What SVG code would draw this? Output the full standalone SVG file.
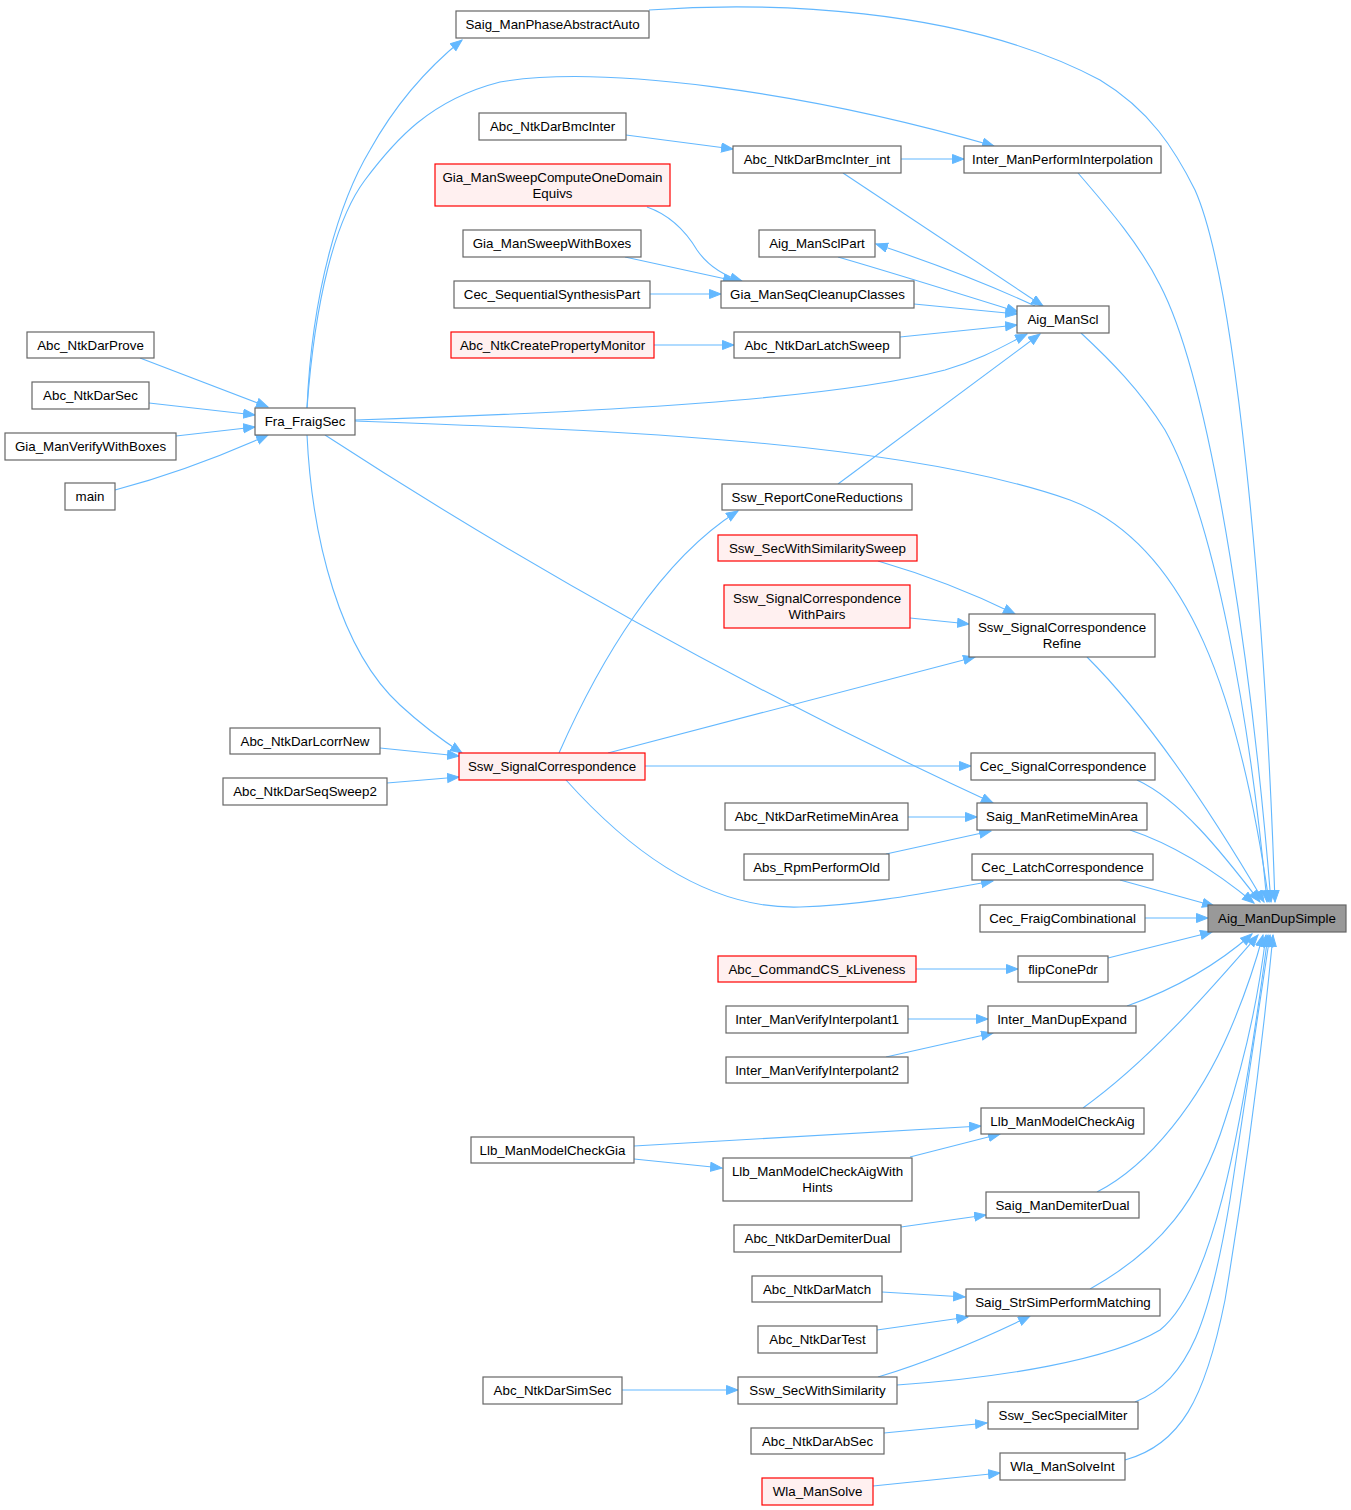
<svg xmlns="http://www.w3.org/2000/svg" width="1351" height="1510" viewBox="0 0 1351 1510">
<style>
.n rect{fill:#ffffff;stroke:#666666;stroke-width:1.2}
.r rect{fill:#fff0f0;stroke:#ff0000;stroke-width:1.2}
.g rect{fill:#999999;stroke:#666666;stroke-width:1.2}
text{font-family:"Liberation Sans",Arial,sans-serif;font-size:13.33px;fill:#000;text-anchor:middle}
#edges path{fill:none;stroke:#63b8ff;stroke-width:1.1;marker-end:url(#ah)}
</style>
<defs>
<marker id="ah" markerWidth="14" markerHeight="12" refX="12" refY="5" orient="auto" markerUnits="userSpaceOnUse">
<path d="M0.5,0.5 L12,5 L0.5,9.5 z" fill="#63b8ff" stroke="#63b8ff" stroke-width="1"/>
</marker>
</defs>
<rect width="1351" height="1510" fill="#ffffff"/>
<g id="edges">
<path d="M649,10 C760,2 960,5 1100,80 C1150,110 1175,150 1195,190 C1235,280 1265,600 1275,902"/>
<path d="M307,408 C312,290 340,200 370,150 C395,105 425,70 462,40"/>
<path d="M307,408 C315,300 335,220 365,180 C395,140 430,100 500,82 C600,65 800,90 994,146"/>
<path d="M626,135 L733,149"/>
<path d="M901,159 L964,159"/>
<path d="M843,173 L1043,306"/>
<path d="M1078,173 C1110,210 1140,245 1160,285 C1215,390 1255,700 1271,902"/>
<path d="M647,207 C670,215 685,230 697,250 C708,266 725,276 742,281"/>
<path d="M625,257 L735,281"/>
<path d="M650,294 L721,294"/>
<path d="M914,304 L1017,314"/>
<path d="M1035,306 C990,285 930,262 876,244"/>
<path d="M838,257 C900,275 970,297 1018,312"/>
<path d="M654,345 L734,345"/>
<path d="M900,337 L1017,325"/>
<path d="M355,420 C600,412 830,400 945,370 C985,358 1005,345 1027,334"/>
<path d="M838,484 L1040,334"/>
<path d="M1081,333 C1110,360 1140,390 1165,430 C1215,520 1250,720 1267,902"/>
<path d="M140,358 L268,407"/>
<path d="M149,403 L255,415"/>
<path d="M176,436 L255,427"/>
<path d="M115,490 Q190,470 268,435"/>
<path d="M355,421 C600,430 900,440 1070,500 C1190,545 1240,700 1269,902"/>
<path d="M307,435 C312,540 340,650 400,705 C425,728 445,742 462,753"/>
<path d="M325,435 Q640,640 993,803"/>
<path d="M559,753 C600,660 660,560 738,511"/>
<path d="M608,753 L975,657"/>
<path d="M645,766 L971,766"/>
<path d="M566,780 C620,840 700,910 800,907 C870,905 940,890 993,881"/>
<path d="M380,748 L459,756"/>
<path d="M387,783 L459,777"/>
<path d="M878,561 Q950,582 1015,614"/>
<path d="M910,618 L969,624"/>
<path d="M1087,657 C1150,720 1210,810 1264,902"/>
<path d="M1137,780 C1180,800 1220,850 1260,902"/>
<path d="M908,817 L977,817"/>
<path d="M886,854 L991,831"/>
<path d="M1130,830 Q1190,850 1254,903"/>
<path d="M1120,880 L1214,906"/>
<path d="M1145,918 L1208,918"/>
<path d="M1108,958 L1212,932"/>
<path d="M916,969 L1018,969"/>
<path d="M1127,1006 Q1200,980 1252,934"/>
<path d="M908,1019 L988,1019"/>
<path d="M886,1057 L993,1033"/>
<path d="M1083,1108 C1150,1060 1210,990 1258,935"/>
<path d="M634,1146 L981,1126"/>
<path d="M634,1159 L722,1168"/>
<path d="M910,1157 L1000,1134"/>
<path d="M1097,1192 C1150,1165 1200,1100 1230,1030 C1245,995 1255,965 1263,935"/>
<path d="M901,1227 L986,1215"/>
<path d="M1090,1289 C1160,1250 1200,1200 1225,1120 C1245,1060 1258,1000 1266,935"/>
<path d="M882,1292 L965,1297"/>
<path d="M877,1330 L968,1317"/>
<path d="M878,1377 Q950,1355 1030,1316"/>
<path d="M897,1385 C1000,1378 1110,1360 1160,1330 C1210,1290 1240,1150 1268,935"/>
<path d="M622,1390 L738,1390"/>
<path d="M1135,1402 C1190,1380 1210,1320 1230,1200 C1245,1100 1260,1000 1270,935"/>
<path d="M884,1433 L987,1423"/>
<path d="M1125,1460 C1180,1445 1205,1400 1225,1300 C1245,1180 1262,1050 1273,935"/>
<path d="M873,1486 L1000,1473"/>
</g>
<g id="n_Saig_ManPhaseAbstractAuto" class="n"><rect x="456" y="11" width="193" height="27"/><text x="552.5" y="29">Saig_ManPhaseAbstractAuto</text></g>
<g id="n_Abc_NtkDarBmcInter" class="n"><rect x="479" y="113" width="147" height="27"/><text x="552.5" y="131">Abc_NtkDarBmcInter</text></g>
<g id="n_Abc_NtkDarBmcInter_int" class="n"><rect x="733" y="146" width="168" height="27"/><text x="817" y="164">Abc_NtkDarBmcInter_int</text></g>
<g id="n_Inter_ManPerformInterpolation" class="n"><rect x="964" y="146" width="197" height="27"/><text x="1062.5" y="164">Inter_ManPerformInterpolation</text></g>
<g id="n_Gia_ManSweepComputeOneDomainEquivs" class="r"><rect x="435" y="164" width="235" height="42"/><text x="552.5" y="182">Gia_ManSweepComputeOneDomain</text><text x="552.5" y="198">Equivs</text></g>
<g id="n_Gia_ManSweepWithBoxes" class="n"><rect x="463" y="230" width="178" height="27"/><text x="552" y="248">Gia_ManSweepWithBoxes</text></g>
<g id="n_Aig_ManSclPart" class="n"><rect x="759" y="230" width="116" height="27"/><text x="817" y="248">Aig_ManSclPart</text></g>
<g id="n_Cec_SequentialSynthesisPart" class="n"><rect x="454" y="281" width="196" height="27"/><text x="552" y="299">Cec_SequentialSynthesisPart</text></g>
<g id="n_Gia_ManSeqCleanupClasses" class="n"><rect x="721" y="281" width="193" height="27"/><text x="817.5" y="299">Gia_ManSeqCleanupClasses</text></g>
<g id="n_Aig_ManScl" class="n"><rect x="1017" y="306" width="92" height="27"/><text x="1063" y="324">Aig_ManScl</text></g>
<g id="n_Abc_NtkCreatePropertyMonitor" class="r"><rect x="451" y="332" width="203" height="26"/><text x="552.5" y="350">Abc_NtkCreatePropertyMonitor</text></g>
<g id="n_Abc_NtkDarLatchSweep" class="n"><rect x="734" y="332" width="166" height="26"/><text x="817" y="350">Abc_NtkDarLatchSweep</text></g>
<g id="n_Abc_NtkDarProve" class="n"><rect x="27" y="332" width="127" height="26"/><text x="90.5" y="350">Abc_NtkDarProve</text></g>
<g id="n_Abc_NtkDarSec" class="n"><rect x="32" y="382" width="117" height="27"/><text x="90.5" y="400">Abc_NtkDarSec</text></g>
<g id="n_Gia_ManVerifyWithBoxes" class="n"><rect x="5" y="433" width="171" height="27"/><text x="90.5" y="451">Gia_ManVerifyWithBoxes</text></g>
<g id="n_main" class="n"><rect x="65" y="483" width="50" height="27"/><text x="90" y="501">main</text></g>
<g id="n_Fra_FraigSec" class="n"><rect x="255" y="408" width="100" height="27"/><text x="305" y="426">Fra_FraigSec</text></g>
<g id="n_Ssw_ReportConeReductions" class="n"><rect x="722" y="484" width="190" height="26"/><text x="817" y="502">Ssw_ReportConeReductions</text></g>
<g id="n_Ssw_SecWithSimilaritySweep" class="r"><rect x="718" y="535" width="199" height="26"/><text x="817.5" y="553">Ssw_SecWithSimilaritySweep</text></g>
<g id="n_Ssw_SignalCorrespondenceWithPairs" class="r"><rect x="724" y="585" width="186" height="43"/><text x="817" y="603">Ssw_SignalCorrespondence</text><text x="817" y="619">WithPairs</text></g>
<g id="n_Ssw_SignalCorrespondenceRefine" class="n"><rect x="969" y="614" width="186" height="43"/><text x="1062" y="632">Ssw_SignalCorrespondence</text><text x="1062" y="648">Refine</text></g>
<g id="n_Ssw_SignalCorrespondence" class="r"><rect x="459" y="753" width="186" height="27"/><text x="552" y="771">Ssw_SignalCorrespondence</text></g>
<g id="n_Abc_NtkDarLcorrNew" class="n"><rect x="230" y="728" width="150" height="26"/><text x="305" y="746">Abc_NtkDarLcorrNew</text></g>
<g id="n_Abc_NtkDarSeqSweep2" class="n"><rect x="223" y="778" width="164" height="27"/><text x="305" y="796">Abc_NtkDarSeqSweep2</text></g>
<g id="n_Cec_SignalCorrespondence" class="n"><rect x="971" y="753" width="184" height="27"/><text x="1063" y="771">Cec_SignalCorrespondence</text></g>
<g id="n_Saig_ManRetimeMinArea" class="n"><rect x="977" y="803" width="170" height="27"/><text x="1062" y="821">Saig_ManRetimeMinArea</text></g>
<g id="n_Abc_NtkDarRetimeMinArea" class="n"><rect x="725" y="803" width="183" height="27"/><text x="816.5" y="821">Abc_NtkDarRetimeMinArea</text></g>
<g id="n_Abs_RpmPerformOld" class="n"><rect x="744" y="854" width="145" height="26"/><text x="816.5" y="872">Abs_RpmPerformOld</text></g>
<g id="n_Cec_LatchCorrespondence" class="n"><rect x="972" y="854" width="181" height="26"/><text x="1062.5" y="872">Cec_LatchCorrespondence</text></g>
<g id="n_Aig_ManDupSimple" class="g"><rect x="1208" y="905" width="138" height="27"/><text x="1277" y="923">Aig_ManDupSimple</text></g>
<g id="n_Cec_FraigCombinational" class="n"><rect x="980" y="905" width="165" height="27"/><text x="1062.5" y="923">Cec_FraigCombinational</text></g>
<g id="n_flipConePdr" class="n"><rect x="1018" y="956" width="90" height="26"/><text x="1063" y="974">flipConePdr</text></g>
<g id="n_Abc_CommandCS_kLiveness" class="r"><rect x="718" y="956" width="198" height="26"/><text x="817" y="974">Abc_CommandCS_kLiveness</text></g>
<g id="n_Inter_ManDupExpand" class="n"><rect x="988" y="1006" width="148" height="27"/><text x="1062" y="1024">Inter_ManDupExpand</text></g>
<g id="n_Inter_ManVerifyInterpolant1" class="n"><rect x="726" y="1006" width="182" height="27"/><text x="817" y="1024">Inter_ManVerifyInterpolant1</text></g>
<g id="n_Inter_ManVerifyInterpolant2" class="n"><rect x="726" y="1057" width="182" height="26"/><text x="817" y="1075">Inter_ManVerifyInterpolant2</text></g>
<g id="n_Llb_ManModelCheckAig" class="n"><rect x="981" y="1108" width="163" height="26"/><text x="1062.5" y="1126">Llb_ManModelCheckAig</text></g>
<g id="n_Llb_ManModelCheckGia" class="n"><rect x="471" y="1137" width="163" height="26"/><text x="552.5" y="1155">Llb_ManModelCheckGia</text></g>
<g id="n_Llb_ManModelCheckAigWithHints" class="n"><rect x="723" y="1158" width="189" height="43"/><text x="817.5" y="1176">Llb_ManModelCheckAigWith</text><text x="817.5" y="1192">Hints</text></g>
<g id="n_Saig_ManDemiterDual" class="n"><rect x="986" y="1192" width="153" height="26"/><text x="1062.5" y="1210">Saig_ManDemiterDual</text></g>
<g id="n_Abc_NtkDarDemiterDual" class="n"><rect x="734" y="1225" width="167" height="27"/><text x="817.5" y="1243">Abc_NtkDarDemiterDual</text></g>
<g id="n_Abc_NtkDarMatch" class="n"><rect x="752" y="1276" width="130" height="26"/><text x="817" y="1294">Abc_NtkDarMatch</text></g>
<g id="n_Saig_StrSimPerformMatching" class="n"><rect x="966" y="1289" width="194" height="27"/><text x="1063" y="1307">Saig_StrSimPerformMatching</text></g>
<g id="n_Abc_NtkDarTest" class="n"><rect x="758" y="1326" width="119" height="27"/><text x="817.5" y="1344">Abc_NtkDarTest</text></g>
<g id="n_Abc_NtkDarSimSec" class="n"><rect x="483" y="1377" width="139" height="27"/><text x="552.5" y="1395">Abc_NtkDarSimSec</text></g>
<g id="n_Ssw_SecWithSimilarity" class="n"><rect x="738" y="1377" width="159" height="27"/><text x="817.5" y="1395">Ssw_SecWithSimilarity</text></g>
<g id="n_Ssw_SecSpecialMiter" class="n"><rect x="988" y="1402" width="150" height="27"/><text x="1063" y="1420">Ssw_SecSpecialMiter</text></g>
<g id="n_Abc_NtkDarAbSec" class="n"><rect x="751" y="1428" width="133" height="26"/><text x="817.5" y="1446">Abc_NtkDarAbSec</text></g>
<g id="n_Wla_ManSolveInt" class="n"><rect x="1000" y="1453" width="125" height="27"/><text x="1062.5" y="1471">Wla_ManSolveInt</text></g>
<g id="n_Wla_ManSolve" class="r"><rect x="762" y="1478" width="111" height="27"/><text x="817.5" y="1496">Wla_ManSolve</text></g>
</svg>
